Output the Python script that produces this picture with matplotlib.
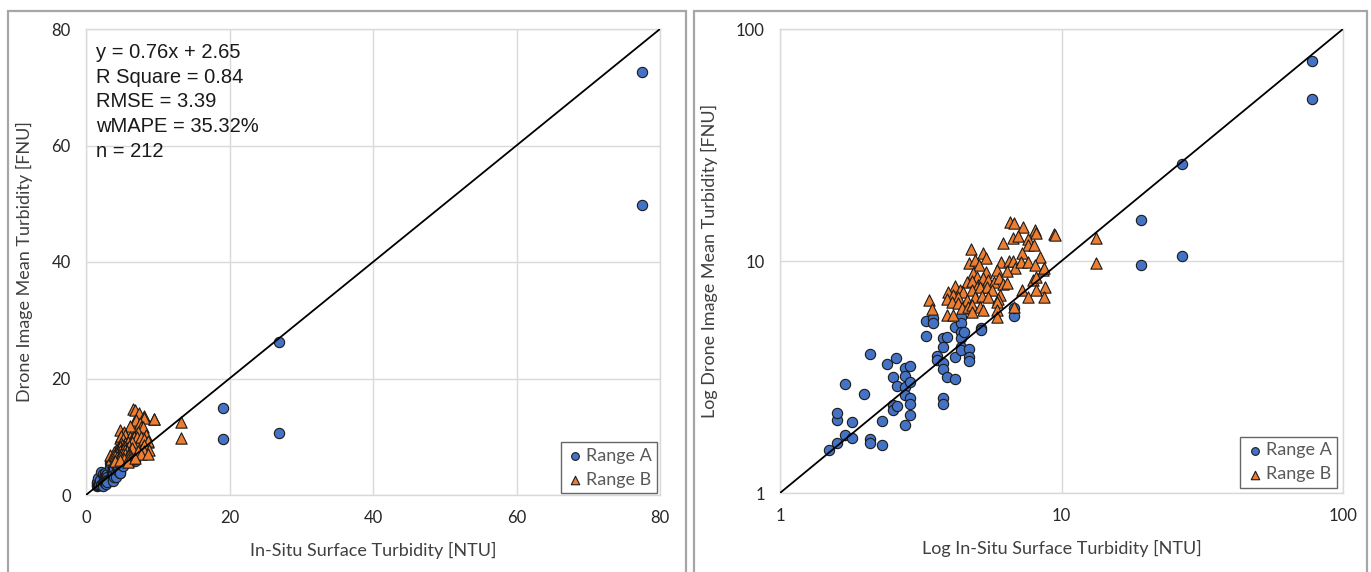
import matplotlib
matplotlib.use('Agg')
import matplotlib.pyplot as plt
import matplotlib.patches as mp
import numpy as np

plt.rcParams['font.family'] = ['Lato', 'DejaVu Sans']

# ─── data ──────────────────────────────────────────────────────
range_a_x = [1.49, 1.60, 1.60, 1.60, 1.70, 1.70, 1.80, 1.80, 1.99, 2.09,
             2.09, 2.09, 2.30, 2.30, 2.39, 2.51, 2.51, 2.51, 2.58, 2.60,
             2.60, 2.79, 2.79, 2.79, 2.79, 2.79, 2.90, 2.90, 2.90, 2.90,
             2.90, 3.30, 3.30, 3.50, 3.50, 3.60, 3.60, 3.78, 3.78, 3.78,
             3.78, 3.78, 3.78, 3.91, 3.91, 4.18, 4.18, 4.18, 4.40, 4.40,
             4.40, 4.40, 4.40, 4.40, 4.50, 4.69, 4.69, 4.69, 5.16, 5.16,
             6.78, 6.78, 19.1, 19.1, 26.9, 26.9, 77.5, 77.5]
range_a_y = [1.53, 1.64, 2.06, 2.21, 2.94, 1.78, 2.02, 1.72, 2.66, 3.96,
             1.71, 1.64, 2.05, 1.61, 3.60, 3.17, 2.39, 2.28, 3.81, 2.89,
             2.38, 3.45, 3.19, 2.87, 2.65, 1.96, 3.53, 3.02, 2.56, 2.42,
             2.17, 5.53, 4.75, 5.66, 5.39, 3.90, 3.74, 4.64, 4.27, 3.62,
             3.43, 2.56, 2.42, 4.69, 3.17, 5.21, 3.85, 3.10, 5.75, 5.39,
             4.96, 4.64, 4.27, 4.13, 4.96, 4.16, 3.85, 3.71, 5.16, 5.04,
             5.79, 6.26, 15.0, 9.65, 26.3, 10.56, 72.6, 49.8]

range_b_x = [6.56, 6.78, 7.32, 8.05, 8.12, 9.43, 6.71, 7.02, 7.59, 7.62,
             6.18, 8.01, 4.77, 5.28, 5.39, 7.22, 8.39, 4.70, 4.93, 5.09,
             6.10, 6.53, 6.74, 6.84, 7.16, 7.62, 8.05, 8.58, 8.67, 5.39,
             5.89, 6.39, 4.86, 5.00, 4.61, 4.80, 5.06, 5.28, 5.50, 5.76,
             6.01, 6.21, 6.39, 7.94, 8.15, 4.18, 4.36, 4.48, 4.80, 5.13,
             5.45, 5.65, 8.74, 3.96, 4.13, 4.30, 4.61, 4.93, 5.21, 5.50,
             6.05, 5.96, 5.89, 7.22, 8.12, 7.62, 8.67, 3.38, 3.48, 3.91,
             4.07, 4.30, 4.42, 4.67, 4.80, 5.13, 5.28, 3.91, 4.11, 4.80,
             5.89, 5.89, 6.79, 13.3, 13.3, 9.48]
range_b_y = [14.77, 14.63, 14.05, 13.60, 13.16, 13.07, 12.53, 12.81, 12.40, 11.72,
             11.92, 11.72, 11.23, 10.86, 10.27, 10.80, 10.37, 9.77, 10.10, 9.61,
             9.93, 10.03, 10.03, 9.30, 9.93, 9.93, 9.61, 9.15, 9.30, 8.99,
             9.15, 9.05, 8.90, 8.56, 8.14, 8.23, 7.88, 8.42, 8.28, 8.14,
             8.42, 7.96, 8.01, 8.28, 8.56, 7.80, 7.50, 7.38, 7.50, 7.70,
             7.70, 7.50, 7.70, 7.38, 7.14, 7.02, 6.79, 6.98, 7.07, 7.02,
             7.14, 6.84, 6.68, 7.50, 7.50, 7.02, 7.02, 6.79, 6.19, 6.84,
             6.68, 6.57, 6.25, 6.35, 6.46, 6.35, 6.15, 5.85, 5.85, 6.05,
             6.15, 5.75, 6.35, 12.6, 9.76, 13.0]

stats_text = ['y = 0.76x + 2.65', 'R Square = 0.84', 'RMSE = 3.39',
              'wMAPE = 35.32%', 'n = 212']

BLUE = '#4472C4'
ORANGE = '#ED7D31'
EDGE = '#1a1a1a'
GRID = '#d9d9d9'
TXT = '#404040'

W, H = 1371, 572
fig = plt.figure(figsize=(W / 100, H / 100), dpi=100)

# 패널 테두리 (Excel 차트 영역)
for x0, x1 in [(8, 686), (694, 1367)]:
    fig.patches.append(mp.Rectangle((x0 / W, -0.05), (x1 - x0) / W, (H - 11) / H + 0.05,
                                    transform=fig.transFigure, fill=False,
                                    edgecolor='#a6a6a6', linewidth=1.6))


def style_axes(ax):
    for s in ax.spines.values():
        s.set_color(GRID)
        s.set_linewidth(1.0)
    ax.grid(True, color=GRID, linewidth=1.0)
    ax.set_axisbelow(True)
    ax.tick_params(length=0, pad=11, labelsize=12, colors='#262626')


def scatter_both(ax):
    ax.scatter(range_a_x, range_a_y, s=55, marker='o', color=BLUE, edgecolor=EDGE,
               linewidth=0.8, zorder=3, label='Range A')
    ax.scatter(range_b_x, range_b_y, s=66, marker='^', color=ORANGE, edgecolor=EDGE,
               linewidth=0.8, zorder=3, label='Range B')


def add_legend(ax, anchor):
    leg = ax.legend(loc='lower right', bbox_to_anchor=anchor, fontsize=13,
                    frameon=True, fancybox=False, edgecolor='#404040',
                    handletextpad=0.1, handlelength=1.0, borderpad=0.3,
                    labelspacing=0.45, markerscale=0.75, borderaxespad=0)
    leg.get_frame().set_linewidth(1.0)
    for t in leg.get_texts():
        t.set_color('#595959')


# ─── 왼쪽: 선형 축 ─────────────────────────────────────
ax1 = fig.add_axes([86 / W, 77 / H, 574 / W, 466 / H])
style_axes(ax1)
scatter_both(ax1)
ax1.plot([0, 80], [0, 80], color='black', linewidth=1.3, zorder=4)
ax1.set_xlim(0, 80)
ax1.set_ylim(0, 80)
ax1.set_xticks([0, 20, 40, 60, 80])
ax1.set_yticks([0, 20, 40, 60, 80])
ax1.set_xlabel('In-Situ Surface Turbidity [NTU]', fontsize=13, color=TXT, labelpad=11)
ax1.set_ylabel('Drone Image Mean Turbidity [FNU]', fontsize=13, color=TXT, labelpad=13)
ax1.text(0.017, 0.97, '\n'.join(stats_text), transform=ax1.transAxes, va='top',
         ha='left', fontsize=14.5, family='Liberation Sans', color='#1a1a1a',
         linespacing=1.38, zorder=5)
add_legend(ax1, (0.995, 0.004))

# ─── 오른쪽: 로그 축 ────────────────────────────────────
ax2 = fig.add_axes([780 / W, 79 / H, 563 / W, 464 / H])
style_axes(ax2)
scatter_both(ax2)
ax2.plot([1, 100], [1, 100], color='black', linewidth=1.3, zorder=4)
ax2.set_xscale('log')
ax2.set_yscale('log')
ax2.set_xlim(1, 100)
ax2.set_ylim(1, 100)
ax2.set_xticks([1, 10, 100])
ax2.set_yticks([1, 10, 100])
ax2.set_xticklabels(['1', '10', '100'])
ax2.set_yticklabels(['1', '10', '100'])
ax2.minorticks_off()
ax2.set_xlabel('Log In-Situ Surface Turbidity [NTU]', fontsize=13, color=TXT, labelpad=11)
ax2.set_ylabel('Log Drone Image Mean Turbidity [FNU]', fontsize=13, color=TXT, labelpad=13)
add_legend(ax2, (0.989, 0.011))

fig.savefig('out.png', dpi=100)
